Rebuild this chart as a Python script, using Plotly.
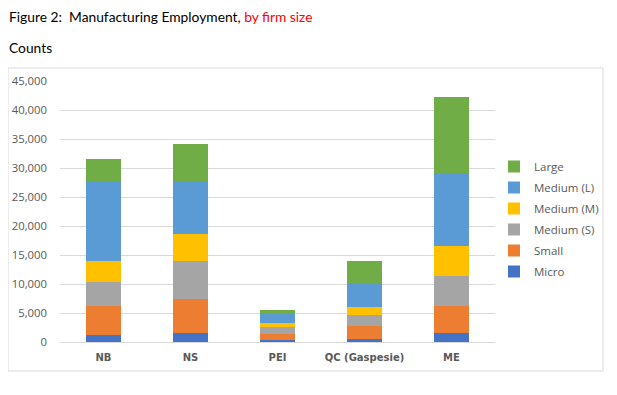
import plotly.graph_objects as go

categories = ["NB", "NS", "PEI", "QC (Gaspesie)", "ME"]
micro = [1200, 1550, 400, 520, 1550]
small = [5060, 5870, 1040, 2300, 4720]
medium_s = [4140, 6560, 1150, 1840, 5120]
medium_m = [3570, 4720, 690, 1380, 5240]
medium_l = [13810, 8980, 1550, 4030, 12540]
large = [3800, 6500, 690, 3910, 13120]

series_names = ["Micro", "Small", "Medium (S)", "Medium (M)", "Medium (L)", "Large"]
series_values = [micro, small, medium_s, medium_m, medium_l, large]
series_colors = ["#4472C4", "#ED7D31", "#A5A5A5", "#FFC000", "#5B9BD5", "#70AD47"]

tick_vals = [0, 5000, 10000, 15000, 20000, 25000, 30000, 35000, 40000, 45000]
tick_text = [f"{v:,}" for v in tick_vals]

fig = go.Figure()
n = len(series_names)
for i, (name, vals, color) in enumerate(zip(series_names, series_values, series_colors)):
    fig.add_trace(go.Bar(
        x=categories, y=vals, name=name, marker_color=color,
        marker_line_width=0, legendgroup=name, legendrank=n - i,
    ))

# page body has an 8px margin, so work in screen coords and offset by 8
OFF = 8
W, H = 617 - OFF, 395 - OFF
plot_x0, plot_x1, plot_y0, plot_y1 = 60, 495, 81, 342  # screen coords
L = plot_x0 - OFF
R = W - (plot_x1 - OFF)
T = plot_y0 - OFF
B = H - (plot_y1 - OFF)
pw, ph = W - L - R, H - T - B

def px(sx):
    return (sx - OFF - L) / pw

def py(sy):
    return (H - B - (sy - OFF)) / ph

fig.update_layout(
    width=W, height=H,
    margin=dict(l=L, r=R, t=T, b=B, autoexpand=False),
    barmode="stack",
    bargap=0.6,
    plot_bgcolor="white",
    paper_bgcolor="white",
    font=dict(family="Open Sans, sans-serif", color="#595959", size=11),
    showlegend=True,
    legend=dict(
        traceorder="grouped",
        x=px(494), y=py(152),
        xanchor="left", yanchor="top",
        font=dict(size=11.5, color="#595959", family="Open Sans, sans-serif"),
        tracegroupgap=2,
        itemwidth=30,
        bgcolor="rgba(0,0,0,0)",
    ),
    xaxis=dict(
        showgrid=False, showline=True, linecolor="#D9D9D9", linewidth=1,
        ticks="", ticklabelstandoff=6, automargin=False,
        tickfont=dict(size=10, color="#595959", family="DejaVu Sans, sans-serif", weight="bold"),
    ),
    yaxis=dict(
        range=[0, 45000], tickvals=tick_vals, ticktext=tick_text,
        showgrid=True, gridcolor="#D9D9D9", gridwidth=1,
        zeroline=False, showline=False, ticks="", automargin=False,
        tickfont=dict(size=11.3, color="#595959", family="Open Sans, sans-serif"),
        ticklabelstandoff=12,
    ),
    annotations=[
        dict(
            text="Figure 2:  Manufacturing Employment, <span style='color:#FF0000'>by firm size</span>",
            xref="paper", yref="paper",
            x=px(7), y=py(17),
            xanchor="left", yanchor="middle", showarrow=False,
            font=dict(size=13.8, color="#000000", family="Lato, sans-serif"),
        ),
        dict(
            text="Counts",
            xref="paper", yref="paper",
            x=px(7), y=py(47),
            xanchor="left", yanchor="middle", showarrow=False,
            font=dict(size=13.8, color="#000000", family="Lato, sans-serif"),
        ),
    ],
    shapes=[
        dict(
            type="rect", xref="paper", yref="paper",
            x0=px(8), x1=px(603),
            y0=py(371), y1=py(68),
            line=dict(color="#D9D9D9", width=1), fillcolor="rgba(0,0,0,0)",
            layer="below",
        )
    ],
)

fig.write_html("out.html")
